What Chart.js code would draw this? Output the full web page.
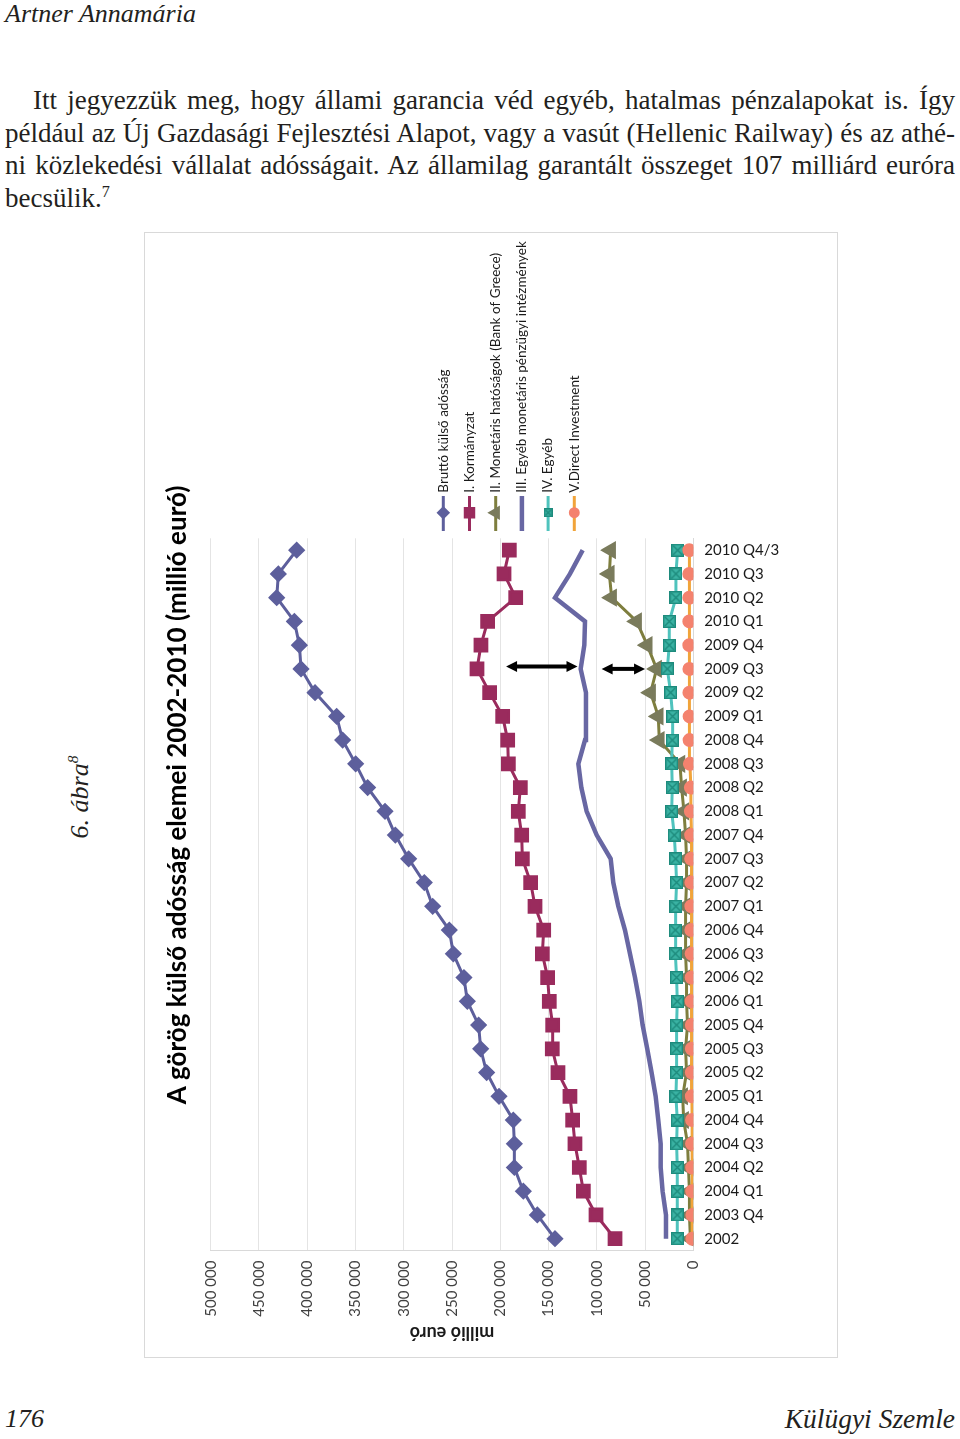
<!DOCTYPE html>
<html lang="hu">
<head>
<meta charset="utf-8">
<title>A görög külső adósság elemei 2002-2010</title>
<script src="https://cdn.jsdelivr.net/npm/chart.js@4.4.1/dist/chart.umd.min.js"></script>
<style>
  html, body { margin: 0; padding: 0; background: #fff; }
  body { width: 960px; height: 1439px; position: relative; overflow: hidden;
         font-family: "Liberation Serif", "Times New Roman", serif; color: #231f20; }
  .author { position: absolute; left: 5px; top: -1px; font-style: italic; font-size: 26px; }
  .para { position: absolute; left: 5px; top: 84px; width: 950px; font-size: 27px; line-height: 32.7px; }
  .para div { text-align: justify; text-align-last: justify; white-space: nowrap; }
  .para div.first { text-indent: 28px; }
  .para div.last { text-align-last: left; }
  .para sup, .fig sup { font-size: 60%; line-height: 0; }
  .fig { position: absolute; left: 80px; top: 797px; transform: translate(-50%, -50%) rotate(-90deg);
         font-style: italic; font-size: 26px; white-space: nowrap; }
  #box { position: absolute; left: 145px; top: 233px; width: 692px; height: 1124px; outline: 1px solid #d9d9d9; }
  .pgno { position: absolute; left: 5px; top: 1404px; font-style: italic; font-size: 26px; }
  .journal { position: absolute; right: 5px; top: 1403px; font-style: italic; font-size: 27.5px; }
</style>
</head>
<body>
<div class="author">Artner Annamária</div>
<div class="para">
  <div class="first">Itt jegyezzük meg, hogy állami garancia véd egyéb, hatalmas pénzalapokat is. Így</div>
  <div>például az Új Gazdasági Fejlesztési Alapot, vagy a vasút (Hellenic Railway) és az athé-</div>
  <div>ni közlekedési vállalat adósságait. Az államilag garantált összeget 107 milliárd euróra</div>
  <div class="last">becsülik.<sup>7</sup></div>
</div>
<div class="fig">6. ábra<sup>8</sup></div>
<div id="box"><canvas id="chart"></canvas></div>
<div class="pgno">176</div>
<div class="journal">Külügyi Szemle</div>

<script>
// ---- data (millió euró) ----
const categories = [
  '2002', '2003 Q4',
  '2004 Q1', '2004 Q2', '2004 Q3', '2004 Q4',
  '2005 Q1', '2005 Q2', '2005 Q3', '2005 Q4',
  '2006 Q1', '2006 Q2', '2006 Q3', '2006 Q4',
  '2007 Q1', '2007 Q2', '2007 Q3', '2007 Q4',
  '2008 Q1', '2008 Q2', '2008 Q3', '2008 Q4',
  '2009 Q1', '2009 Q2', '2009 Q3', '2009 Q4',
  '2010 Q1', '2010 Q2', '2010 Q3', '2010 Q4/3'
];

const seriesNames = [
  'Bruttó külső adósság',
  'I. Kormányzat',
  'II. Monetáris hatóságok (Bank of Greece)',
  'III. Egyéb monetáris pénzügyi intézmények',
  'IV. Egyéb',
  'V.Direct Investment'
];

const brutto = [143300, 161600, 176100, 185400, 185400, 186500, 201300, 214100, 220300, 222400,
                234100, 237600, 248600, 252800, 270000, 278700, 294900, 308700, 319400, 337400,
                349800, 363300, 369500, 391900, 406400, 408100, 413300, 431600, 429900, 410900];
const kormanyzat = [81100, 100800, 113900, 118100, 122600, 125000, 127800, 140200, 146100, 145700,
                    149200, 150900, 156400, 155000, 164000, 168500, 177100, 177800, 181300, 179200,
                    191600, 192300, 197500, 211000, 224100, 220000, 213100, 184000, 196100, 190600];
const monetaris = [3000, 4000, 4000, 5000, 6000, 10000, 11000, 7000, 8000, 6000,
                   7000, 7000, 8000, 8000, 8000, 7000, 7000, 8000, 9700, 12100,
                   13800, 35200, 36300, 44200, 38000, 47700, 58700, 84600, 87000, 85600];
const egyebMfi = [28300, 28300, 31800, 33800, 33800, 36300, 39000, 43200, 47700, 52500,
                  55900, 60400, 65600, 70800, 77700, 82900, 85600, 100100, 110500, 116000,
                  119100, 112200, 111200, 111200, 116700, 112900, 112200, 143300, 127800, 114600];
const egyeb = [16600, 16600, 16600, 16600, 17300, 16600, 18000, 17300, 17300, 17300,
               16600, 17300, 18600, 18600, 18000, 17300, 18300, 19700, 22400, 21800,
               22400, 21800, 21400, 23500, 26900, 24900, 24900, 18000, 18000, 16200];
const directInv = [1000, 1000, 1200, 1200, 1300, 1300, 1500, 1500, 1500, 1500,
                   1700, 1700, 1700, 2000, 2000, 2000, 2200, 2200, 2500, 2500,
                   3500, 3800, 3800, 4000, 4000, 4100, 4100, 4100, 4100, 4100];

// double-headed arrows (annotation): from / to value, at category position
const arrowFrom = [194000, 95000];
const arrowTo   = [120000, 50000];
const arrowAt   = [24.1, 24.0];

const chartTitle = 'A görög külső adósság elemei 2002-2010 (millió euró)';
const axisTitle  = 'millió euró';

// ---- teal marker (square with x) ----
function tealMarker(size) {
  const c = document.createElement('canvas');
  c.width = size; c.height = size;
  const g = c.getContext('2d');
  g.fillStyle = '#3bb3a4';
  g.fillRect(0, 0, size, size);
  g.strokeStyle = '#1d8a7c';
  g.lineWidth = 1.4;
  g.beginPath();
  g.moveTo(2, 2); g.lineTo(size - 2, size - 2);
  g.moveTo(size - 2, 2); g.lineTo(2, size - 2);
  g.stroke();
  g.strokeRect(0.7, 0.7, size - 1.4, size - 1.4);
  return c;
}

const fmt = v => String(v).replace(/\B(?=(\d{3})+(?!\d))/g, ' ');

// ---- plugins ----
const sideLegend = {
  id: 'sideLegend',
  afterDraw(chart, args, o) {
    const ctx = chart.ctx;
    chart.data.datasets.forEach((ds, i) => {
      const x = o.x + i * o.step;
      ctx.save();
      ctx.strokeStyle = ds.borderColor;
      ctx.lineWidth = ds.borderWidth;
      ctx.beginPath();
      ctx.moveTo(x, o.lineTop);
      ctx.lineTo(x, o.lineBottom);
      ctx.stroke();
      if (ds.pointRadius > 0) {
        ctx.fillStyle = ds.pointBackgroundColor;
        ctx.strokeStyle = ds.pointBorderColor;
        const style = ds.legendStyle || ds.pointStyle;
        Chart.helpers.drawPoint(ctx, {
          pointStyle: style, rotation: ds.pointRotation || 0,
          radius: ds.pointRadius * 0.72, borderWidth: 1
        }, x, o.markerY);
      }
      ctx.translate(x, o.textY);
      ctx.rotate(-Math.PI / 2);
      ctx.fillStyle = '#1a1a1a';
      ctx.font = o.font;
      ctx.textAlign = 'left';
      ctx.textBaseline = 'middle';
      ctx.fillText(ds.label, 0, 0);
      ctx.restore();
    });
  }
};

const arrowsPlugin = {
  id: 'arrows',
  afterDatasetsDraw(chart) {
    const { ctx, scales: { x, y } } = chart;
    const head = 11, half = 5.5;
    arrowFrom.forEach((v, i) => {
      const x1 = x.getPixelForValue(v);
      const x2 = x.getPixelForValue(arrowTo[i]);
      const yy = y.getPixelForValue(arrowAt[i]);
      const dir = x2 > x1 ? 1 : -1;
      ctx.save();
      ctx.strokeStyle = '#000';
      ctx.fillStyle = '#000';
      ctx.lineWidth = 4;
      ctx.beginPath();
      ctx.moveTo(x1 + dir * head * 0.8, yy);
      ctx.lineTo(x2 - dir * head * 0.8, yy);
      ctx.stroke();
      [[x1, -dir], [x2, dir]].forEach(([px, d]) => {
        ctx.beginPath();
        ctx.moveTo(px, yy);
        ctx.lineTo(px - d * head, yy - half);
        ctx.lineTo(px - d * head, yy + half);
        ctx.closePath();
        ctx.fill();
      });
      ctx.restore();
    });
  }
};

const flippedAxisTitle = {
  id: 'flippedAxisTitle',
  afterDraw(chart, args, o) {
    const { ctx, chartArea } = chart;
    ctx.save();
    ctx.translate((chartArea.left + chartArea.right) / 2, chartArea.bottom + o.offset);
    ctx.rotate(Math.PI);
    ctx.font = o.font;
    ctx.fillStyle = '#1a1a1a';
    ctx.textAlign = 'center';
    ctx.textBaseline = 'middle';
    ctx.fillText(axisTitle, 0, 0);
    ctx.restore();
  }
};

Chart.defaults.font.family = 'Lato, Carlito, Calibri, sans-serif';

const teal = tealMarker(13);
const tealSmall = tealMarker(9);

const datasets = [
  { label: seriesNames[0], data: brutto, borderColor: '#5d5f9c', pointBackgroundColor: '#5d5f9c',
    pointBorderColor: '#5d5f9c', pointStyle: 'rectRot', pointRadius: 6.5, borderWidth: 3, order: 6 },
  { label: seriesNames[1], data: kormanyzat, borderColor: '#9a2b5d', pointBackgroundColor: '#9a2b5d',
    pointBorderColor: '#9a2b5d', pointStyle: 'rect', pointRadius: 8.3, borderWidth: 3, order: 5 },
  { label: seriesNames[2], data: monetaris, borderColor: '#7e7e3e', pointBackgroundColor: '#7a7b5c',
    pointBorderColor: '#7a7b5c', pointStyle: 'triangle', pointRotation: -90, pointRadius: 7.5,
    borderWidth: 3, order: 4 },
  { label: seriesNames[3], data: egyebMfi, borderColor: '#6867a3', pointBackgroundColor: '#6867a3',
    pointBorderColor: '#6867a3', pointRadius: 0, borderWidth: 4.5, order: 3 },
  { label: seriesNames[4], data: egyeb, borderColor: '#4fc3bd', pointBackgroundColor: '#3bb3a4',
    pointBorderColor: '#1d8a7c', pointStyle: teal, legendStyle: tealSmall, pointRadius: 6.5,
    borderWidth: 3, order: 2 },
  { label: seriesNames[5], data: directInv, borderColor: '#f1a43a', pointBackgroundColor: '#f4826e',
    pointBorderColor: '#f4826e', pointStyle: 'circle', pointRadius: 5.5, borderWidth: 3, order: 1 }
];

new Chart(document.getElementById('chart'), {
  type: 'line',
  data: { labels: categories, datasets },
  plugins: [sideLegend, arrowsPlugin, flippedAxisTitle],
  options: {
    indexAxis: 'y',
    responsive: true,
    maintainAspectRatio: false,
    animation: false,
    layout: { padding: 0 },
    elements: { line: { tension: 0 } },
    plugins: {
      legend: { display: false },
      tooltip: { enabled: false },
      title: {
        display: true, position: 'left', text: chartTitle, color: '#000',
        font: { size: 26, weight: 'bold' }, padding: { top: 17.25, bottom: 17.25 }
      },
      sideLegend: { x: 298.3, step: 26.2, lineTop: 263, lineBottom: 298, markerY: 279.7,
                    textY: 259.7, font: '13.5px Lato, Carlito, sans-serif' },
      flippedAxisTitle: { offset: 82.4, font: 'bold 18px Lato, Carlito, sans-serif' }
    },
    scales: {
      x: {
        type: 'linear', position: 'bottom', reverse: true, min: 0, max: 500000,
        grid: { color: '#e4e4e4', drawTicks: false },
        border: { display: true, color: '#d9d9d9' },
        ticks: { stepSize: 50000, minRotation: 90, maxRotation: 90, padding: 10,
                 color: '#404040', font: { size: 15 }, callback: v => fmt(v) },
        afterFit: s => { s.height = 106.4; }
      },
      spacer: {
        type: 'linear', axis: 'x', position: 'top', display: true,
        grid: { display: false, drawTicks: false }, border: { display: false },
        ticks: { display: false },
        afterFit: s => { s.height = 305.3; }
      },
      y: {
        type: 'category', position: 'right', reverse: true, offset: true,
        grid: { display: false, drawTicks: false },
        border: { display: true, color: '#d9d9d9' },
        ticks: { autoSkip: false, padding: 11, color: '#1a1a1a', font: { size: 15 } },
        afterFit: s => { s.width = 143.7; }
      }
    }
  }
});
</script>
</body>
</html>
